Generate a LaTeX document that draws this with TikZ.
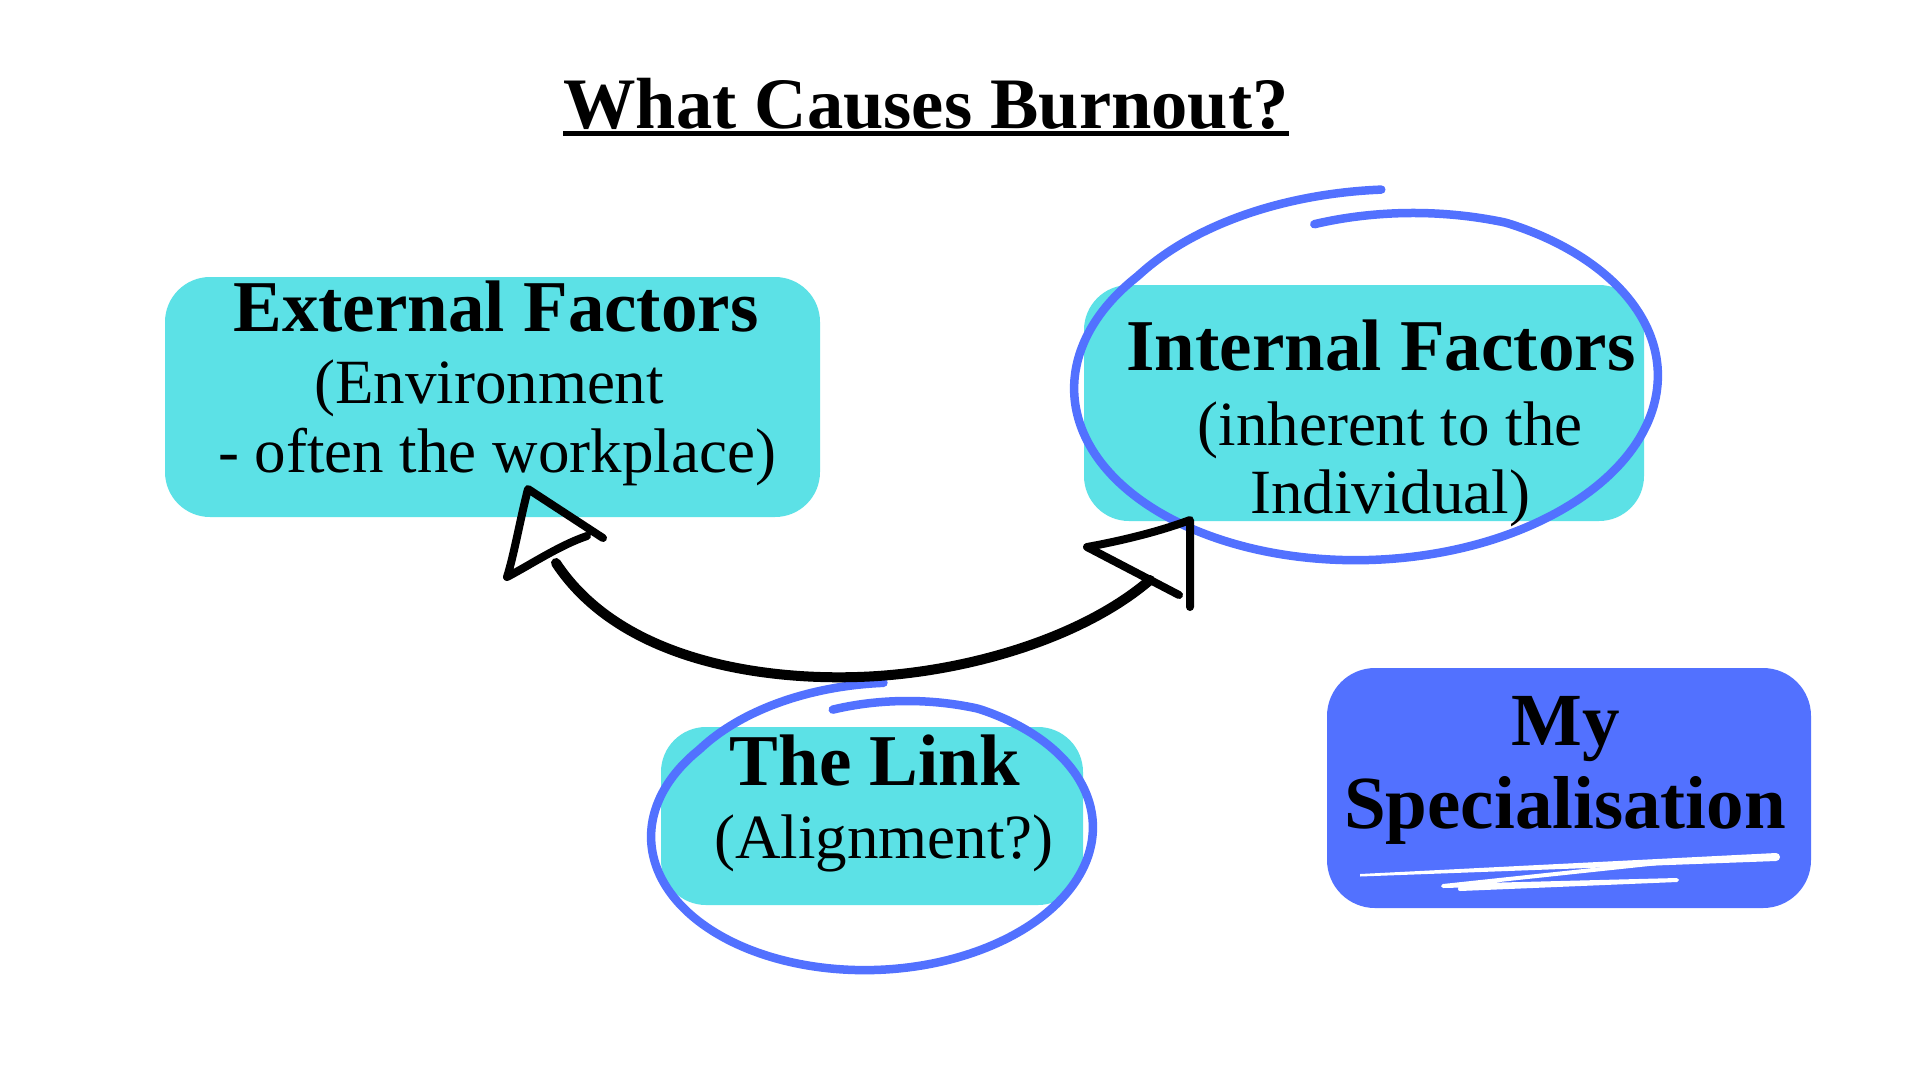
\documentclass[tikz,border=0pt]{standalone}
\usepackage{fontspec}
\setmainfont{Liberation Serif}
\definecolor{boxcyan}{HTML}{5CE1E6}
\definecolor{penblue}{HTML}{5271FF}
\begin{document}
\begin{tikzpicture}[x=1pt,y=-1pt,
  declare function={rs(\u)=1-0.09*max(0,1-\u/40)+0.08*max(0,(\u-320)/54);},
  cyanbox/.style={fill=boxcyan, draw=none, rounded corners=45pt, inner sep=0pt},
  bluebox/.style={fill=penblue, draw=none, rounded corners=48pt, inner sep=0pt},
  headtxt/.style={anchor=base, inner sep=0pt, font=\fontsize{73}{80}\selectfont\bfseries},
  spectxt/.style={anchor=base, inner sep=0pt, font=\fontsize{75}{80}\selectfont\bfseries},
  subtxt/.style={anchor=base, inner sep=0pt, font=\fontsize{63}{72}\selectfont},
  titletxt/.style={anchor=base, inner sep=0pt, font=\fontsize{72.5}{80}\selectfont\bfseries},
  ring/.style={draw=penblue, line width=8.5pt, line cap=round, line join=round},
  ink/.style={draw=black, line width=8pt, line cap=round, line join=round},
  scribble/.style={draw=white, line cap=round, line join=round}]
\useasboundingbox[fill=white] (0,0) rectangle (1920,1080);

% title
\node[titletxt] (title) at (926,128) {What Causes Burnout?};
\draw[line width=5pt] ([yshift=-5.5pt]title.base west) -- ([yshift=-5.5pt]title.base east);

% boxes
\node[cyanbox, minimum width=655pt, minimum height=240pt] (extbox) at (492.5,397) {};
\node[cyanbox, minimum width=560pt, minimum height=236pt] (intbox) at (1364,403) {};
\node[cyanbox, minimum width=422pt, minimum height=178pt] (linkbox) at (872,816) {};
\node[bluebox, minimum width=484pt, minimum height=240pt] (specbox) at (1569,788) {};

% hand-drawn rings
\begin{scope}[rotate around={2:(1366,382)}]
\draw[ring] plot[domain=0:374, samples=180, smooth, variable=\u]
  ({1366+292*rs(\u)*cos(100-\u)}, {382-178*rs(\u)*sin(100-\u)});
\end{scope}
\begin{scope}[rotate around={2:(872,832)}]
\draw[ring] plot[domain=0:374, samples=180, smooth, variable=\u]
  ({872+221*rs(\u)*cos(100-\u)}, {832-138*rs(\u)*sin(100-\u)});
\end{scope}

% texts
\node[headtxt] (ext1) at (496,331) {External Factors};
\node[subtxt] (ext2) at (489,403) {(Environment};
\node[subtxt] (ext3) at (497,472) {- often the workplace)};
\node[headtxt] (int1) at (1381,370) {Internal Factors};
\node[subtxt] (int2) at (1390,445) {(inherent to the};
\node[subtxt] (int3) at (1390,513) {Individual)};
\node[headtxt] (link1) at (875,785) {The Link};
\node[subtxt] (link2) at (884,858) {(Alignment?)};
\node[spectxt] (spec1) at (1566,745) {My};
\node[spectxt] (spec2) at (1565,828) {Specialisation};

% white scribble under Specialisation
\coordinate (sB2) at (1677,861);
\coordinate (sC) at (1443,886);
\coordinate (sD) at (1677,880);
\coordinate (sE) at (1460,889);
\fill[white] (1360,874) -- (1776,853) arc[start angle=90, end angle=-90, radius=4pt] -- (1360,876.5) -- cycle;
\draw[scribble, line width=4pt] (sB2) -- (sC) -- (sD) -- (sE);

% double-headed hand-drawn arrow
\coordinate (cs) at (556,563);
\coordinate (cm) at (857,677);
\coordinate (ce) at (1150,580);
\draw[ink, line width=10pt] (cs) .. controls (620,660) and (760,680) .. (cm)
  .. controls (960,674) and (1080,640) .. (ce);

\coordinate (lt) at (528,489);
\coordinate (lb) at (507,577);
\coordinate (lr) at (603,538);
\coordinate (lr2) at (587,536);
\draw[ink] (lr2) .. controls (560,545) and (530,565) .. (lb)
  .. controls (514,555) and (520,520) .. (lt) -- (lr);

\coordinate (rl) at (1087,547);
\coordinate (rt) at (1190,520);
\coordinate (rb) at (1190,607);
\coordinate (rd) at (1179,595);
\draw[ink] (rd) -- (rl) .. controls (1120,541) and (1158,532) .. (rt) -- (rb);
\end{tikzpicture}
\end{document}
